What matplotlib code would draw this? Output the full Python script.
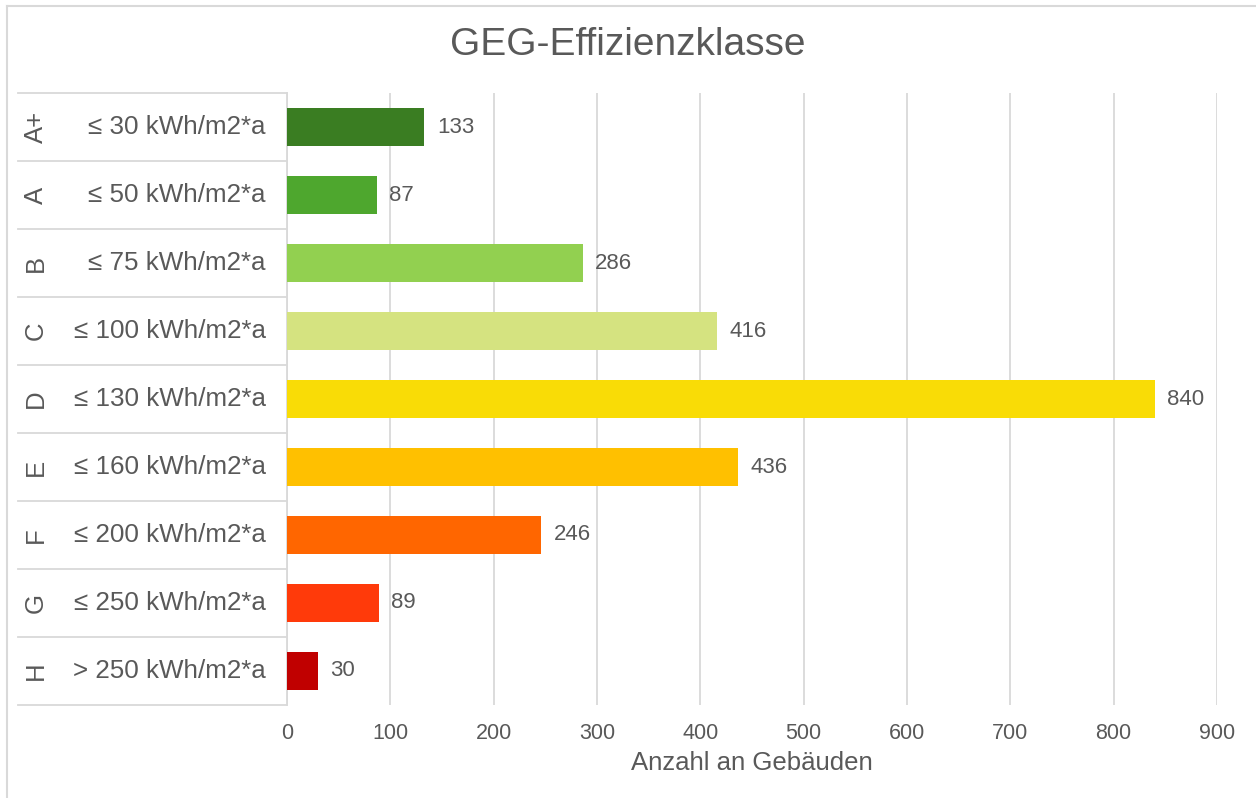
import matplotlib
matplotlib.use("Agg")
import matplotlib.pyplot as plt
from matplotlib.lines import Line2D

plt.rcParams['font.family'] = ['Liberation Sans', 'DejaVu Sans']

# Daten
klassen = ["A+", "A", "B", "C", "D", "E", "F", "G", "H"]
grenzen = ["≤ 30 kWh/m2*a", "≤ 50 kWh/m2*a", "≤ 75 kWh/m2*a", "≤ 100 kWh/m2*a",
           "≤ 130 kWh/m2*a", "≤ 160 kWh/m2*a", "≤ 200 kWh/m2*a", "≤ 250 kWh/m2*a",
           "> 250 kWh/m2*a"]
anzahl = [133, 87, 286, 416, 840, 436, 246, 89, 30]
farben = ["#3A7D22", "#4EA72E", "#92D050", "#D5E380", "#F9DC06",
          "#FFC000", "#FF6600", "#FF3A0A", "#C00000"]
xticks = [0, 100, 200, 300, 400, 500, 600, 700, 800, 900]

text_grau = "#595959"
linien_grau = "#D9D9D9"

fig = plt.figure(figsize=(12.56, 7.98), dpi=100)
ax = fig.add_axes([287 / 1256, 1 - 705 / 798, 930 / 1256, 612 / 798])

y = list(range(len(klassen)))
bars = ax.barh(y, anzahl, height=0.56, color=farben, zorder=3)
ax.set_ylim(len(klassen) - 0.5, -0.5)
ax.set_xlim(0, 900)
ax.set_xticks(xticks)
ax.set_xticklabels([str(t) for t in xticks], fontsize=15.5, color=text_grau)
ax.tick_params(axis="x", length=0, pad=13)
ax.set_yticks([])
ax.grid(axis="x", color=linien_grau, linewidth=1.3, zorder=0)
for s in ["top", "right", "bottom"]:
    ax.spines[s].set_visible(False)
ax.spines["left"].set_color(linien_grau)
ax.spines["left"].set_linewidth(1.3)
ax.set_xlabel("Anzahl an Gebäuden", fontsize=18.5, color=text_grau, labelpad=5)

# Werte an den Balken
for bar, wert in zip(bars, anzahl):
    ax.annotate(str(wert), (bar.get_width(), bar.get_y() + bar.get_height() / 2),
                xytext=(9, 0), textcoords="offset points", va="center", ha="left",
                fontsize=16, color=text_grau)

# Kategorie-Tabelle links
x_links = (18 - 287) / 930
for i in range(len(klassen) + 1):
    ax.add_line(Line2D([x_links, 0], [i - 0.5, i - 0.5], color=linien_grau, lw=1.3,
                       transform=ax.get_yaxis_transform(), clip_on=False))
for i, (k, g) in enumerate(zip(klassen, grenzen)):
    ax.text((36 - 287) / 930, i, k, rotation=90, ha="center", va="center",
            fontsize=18.5, color=text_grau, transform=ax.get_yaxis_transform())
    ax.text((266 - 287) / 930, i, g, ha="right", va="center",
            fontsize=18.7, color=text_grau, transform=ax.get_yaxis_transform())

# Titel
fig.text(0.5, 1 - 45 / 798, "GEG-Effizienzklasse", ha="center", va="center",
         fontsize=28, color=text_grau)

# Diagrammrahmen (rechts und unten abgeschnitten)
fig.add_artist(Line2D([7 / 1256, 1.0], [1 - 6 / 798, 1 - 6 / 798], color=linien_grau,
                      lw=1.5, transform=fig.transFigure))
fig.add_artist(Line2D([7 / 1256, 7 / 1256], [0, 1 - 6 / 798], color=linien_grau,
                      lw=1.5, transform=fig.transFigure))

plt.savefig("out.png", dpi=100)
